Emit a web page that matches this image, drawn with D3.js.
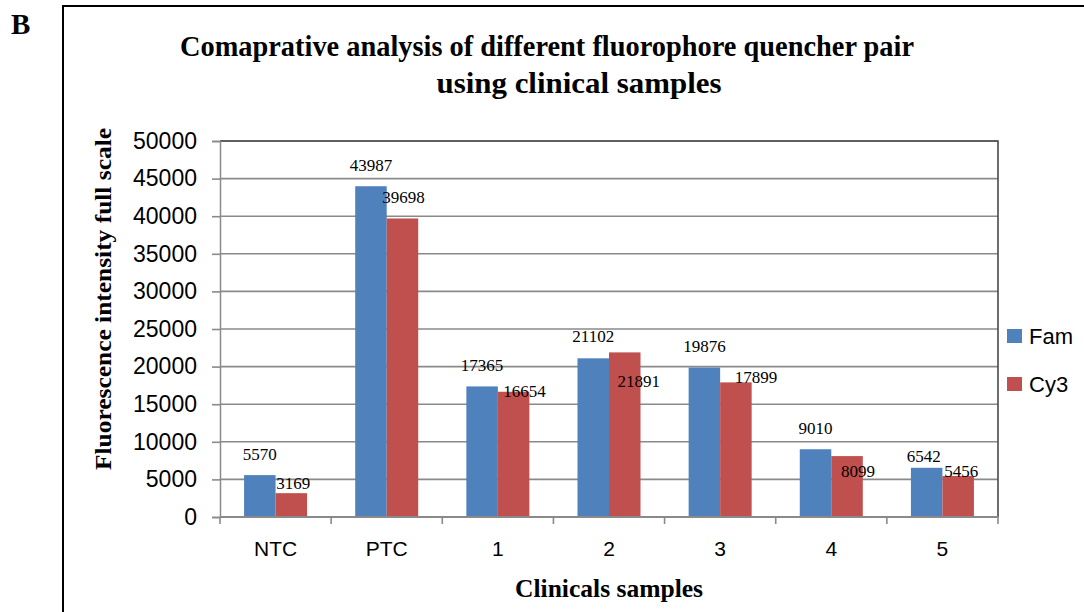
<!DOCTYPE html>
<html>
<head>
<meta charset="utf-8">
<script src="https://cdn.jsdelivr.net/npm/d3@7"></script>
<style>
  html, body { margin: 0; padding: 0; background: #fff; }
  svg { display: block; }
</style>
</head>
<body>
<svg id="chart" width="1084" height="612"></svg>
<script>
// ---- data ----
const categories = ["NTC", "PTC", "1", "2", "3", "4", "5"];
const seriesNames = ["Fam", "Cy3"];
const famValues = [5570, 43987, 17365, 21102, 19876, 9010, 6542];
const cy3Values = [3169, 39698, 16654, 21891, 17899, 8099, 5456];
const yTickValues = [0, 5000, 10000, 15000, 20000, 25000, 30000, 35000, 40000, 45000, 50000];

// ---- style / layout ----
const colors = { Fam: "#4F81BD", Cy3: "#C0504D" };
// manual data-label nudges [dx, dy of baseline relative to bar top], as placed in the original
const labelNudge = {
  Fam: [[0,-15],[0,-15],[0,-15],[0,-16],[0,-16],[0,-15],[-3,-6]],
  Cy3: [[2,-4],[1,-15],[11,5],[14,35],[20,1],[11,21],[3,1]]
};
const plot = { left: 220, right: 998, top: 141, bottom: 517 };
const sans = "'Liberation Sans', Arial, sans-serif";
const serif = "'Liberation Serif', 'Times New Roman', serif";
const gridColor = "#8a8a8a";

const svg = d3.select("#chart");

// outer frame
svg.append("rect")
  .attr("x", 63).attr("y", 6)
  .attr("width", 1084).attr("height", 700)
  .attr("fill", "none").attr("stroke", "#000").attr("stroke-width", 2);

// panel letter
svg.append("text").attr("x", 11).attr("y", 34)
  .attr("font-family", serif).attr("font-weight", "bold").attr("font-size", 29)
  .text("B");

// title
const title = svg.append("text")
  .attr("text-anchor", "middle")
  .attr("font-family", serif).attr("font-weight", "bold").attr("font-size", 30);
title.append("tspan").attr("x", 547).attr("y", 56)
  .attr("textLength", 734).attr("lengthAdjust", "spacingAndGlyphs")
  .text("Comaprative analysis of different fluorophore quencher pair");
title.append("tspan").attr("x", 579).attr("y", 93)
  .attr("textLength", 285).attr("lengthAdjust", "spacingAndGlyphs")
  .text("using clinical samples");

// scales
const y = d3.scaleLinear().domain([0, 50000]).range([plot.bottom, plot.top]);
const x0 = d3.scaleBand().domain(categories).range([plot.left, plot.right]).paddingInner(0).paddingOuter(0);
const x1 = d3.scaleBand().domain(seriesNames).range([0, x0.bandwidth()]).paddingInner(0).paddingOuter(0.764);

// gridlines
svg.append("g").selectAll("line")
  .data(yTickValues.filter(v => v > 0))
  .join("line")
  .attr("x1", plot.left).attr("x2", plot.right)
  .attr("y1", d => y(d)).attr("y2", d => y(d))
  .attr("stroke", gridColor).attr("stroke-width", 1.6);

// plot area border (top & right)
svg.append("path")
  .attr("d", `M${plot.left},${plot.top}H${plot.right}V${plot.bottom}`)
  .attr("fill", "none").attr("stroke", "#4a4a4a").attr("stroke-width", 1.6);

// y axis
const yAxis = svg.append("g")
  .attr("transform", `translate(${plot.left},0)`)
  .call(d3.axisLeft(y).tickValues(yTickValues).tickSize(8).tickPadding(15).tickFormat(d3.format("d")));
yAxis.select(".domain").attr("stroke", gridColor).attr("stroke-width", 1.5);
yAxis.selectAll(".tick line").attr("stroke", gridColor).attr("stroke-width", 1.6);
yAxis.selectAll(".tick text").attr("font-family", sans).attr("font-size", 23).attr("fill", "#000");

// bars
const rows = categories.map((c, i) => ({ cat: c, i, vals: [
  { s: "Fam", v: famValues[i] }, { s: "Cy3", v: cy3Values[i] }
]}));
const groups = svg.append("g").selectAll("g")
  .data(rows).join("g")
  .attr("transform", d => `translate(${x0(d.cat)},0)`);
groups.selectAll("rect")
  .data(d => d.vals).join("rect")
  .attr("x", d => x1(d.s))
  .attr("y", d => y(d.v))
  .attr("width", x1.bandwidth())
  .attr("height", d => y(0) - y(d.v))
  .attr("fill", d => colors[d.s]);

// x axis
const xAxisG = svg.append("g").attr("transform", `translate(0,${plot.bottom})`);
xAxisG.append("line").attr("x1", plot.left).attr("x2", plot.right)
  .attr("stroke", gridColor).attr("stroke-width", 1.8);
const boundaries = categories.map(c => x0(c)).concat([x0.range()[1]]);
xAxisG.selectAll("line.bt").data(boundaries).join("line").attr("class", "bt")
  .attr("x1", d => d).attr("x2", d => d).attr("y1", 0).attr("y2", 7)
  .attr("stroke", gridColor).attr("stroke-width", 1.6);
const xLab = svg.append("g").attr("transform", `translate(0,${plot.bottom})`)
  .call(d3.axisBottom(x0).tickSize(0).tickPadding(24));
xLab.select(".domain").remove();
xLab.selectAll(".tick text").attr("font-family", sans).attr("font-size", 21).attr("fill", "#000");

// data labels
groups.selectAll("text")
  .data(d => d.vals.map(o => ({ ...o, i: d.i }))).join("text")
  .attr("x", d => x1(d.s) + x1.bandwidth() / 2 + labelNudge[d.s][d.i][0])
  .attr("y", d => y(d.v) + labelNudge[d.s][d.i][1])
  .attr("text-anchor", "middle")
  .attr("font-family", serif).attr("font-size", 17).attr("fill", "#000")
  .text(d => d.v);

// axis titles
svg.append("text")
  .attr("transform", `translate(111,299) rotate(-90)`)
  .attr("text-anchor", "middle")
  .attr("font-family", serif).attr("font-weight", "bold").attr("font-size", 24)
  .attr("textLength", 342).attr("lengthAdjust", "spacingAndGlyphs")
  .text("Fluorescence intensity  full scale");
svg.append("text")
  .attr("x", 609).attr("y", 597)
  .attr("text-anchor", "middle")
  .attr("font-family", serif).attr("font-weight", "bold").attr("font-size", 25)
  .attr("textLength", 188).attr("lengthAdjust", "spacingAndGlyphs")
  .text("Clinicals  samples");

// legend
const legend = svg.append("g").selectAll("g")
  .data(seriesNames).join("g")
  .attr("transform", (d, i) => `translate(1007,${329 + i * 48})`);
legend.append("rect").attr("width", 15).attr("height", 14).attr("fill", d => colors[d]);
legend.append("text").attr("x", 22).attr("y", 15)
  .attr("font-family", sans).attr("font-size", 22).attr("fill", "#000")
  .text(d => d);
</script>
</body>
</html>
